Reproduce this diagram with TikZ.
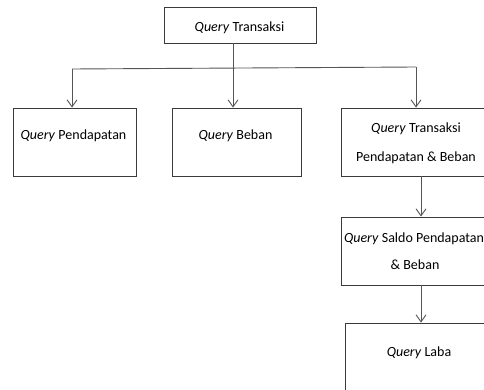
\documentclass[tikz,border=0pt]{standalone}
\usepackage{fontspec}
\setmainfont{Carlito}
\usetikzlibrary{arrows.meta}
\definecolor{boxline}{HTML}{3A3A3A}
\definecolor{conline}{HTML}{555555}
\tikzset{
  box/.style={draw=boxline, line width=0.9pt, rectangle, inner sep=0pt},
  lbl/.style={anchor=base, inner sep=0pt, font=\fontsize{14}{28}\selectfont, text=black},
  conn/.style={draw=conline, line width=0.9pt},
  arr/.style={conn, -{Straight Barb[length=7pt,width=10pt,line width=0.9pt]}}
}
\begin{document}
\begin{tikzpicture}[x=1pt,y=-1pt]
\useasboundingbox (0,0) rectangle (484,390);
\clip (0,0) rectangle (484,390);
% boxes
\node[box, minimum width=152pt, minimum height=36pt] (top) at (240,25) {};
\node[box, minimum width=123pt, minimum height=68pt] (b1) at (74.5,142) {};
\node[box, minimum width=129pt, minimum height=68pt] (b2) at (236.5,142) {};
\node[box, minimum width=160pt, minimum height=68pt] (b3) at (421,142) {};
\node[box, minimum width=160pt, minimum height=68pt] (b4) at (421,251) {};
\node[box, minimum width=150pt, minimum height=100pt] (b5) at (420,373) {};
% labels
\node[lbl] (t0) at (239.5,32) {\textit{Query} Transaksi};
\node[lbl] (t1) at (73.5,140) {\textit{Query} Pendapatan};
\node[lbl] (t2) at (235.5,140) {\textit{Query} Beban};
\node[lbl] (t3a) at (416,133) {\textit{Query} Transaksi};
\node[lbl] (t3b) at (416,162) {Pendapatan \& Beban};
\node[lbl] (t4a) at (414,242) {\textit{Query} Saldo Pendapatan};
\node[lbl] (t4b) at (415,269) {\& Beban};
\node[lbl] (t5) at (419,356) {\textit{Query} Laba};
% connectors
\coordinate (j) at (233,68);
\coordinate (hl) at (72,69);
\coordinate (hr) at (416,67);
\draw[conn] (top.south -| j) -- (j);
\draw[conn] (hl) -- (hr);
\draw[arr] (hl) -- (hl |- b1.north);
\draw[arr] (j) -- (j |- b2.north);
\draw[arr] (hr) -- (hr |- b3.north);
\coordinate (v) at (421,0);
\draw[arr] (v |- b3.south) -- (v |- b4.north);
\draw[arr] (v |- b4.south) -- (v |- b5.north);
\end{tikzpicture}
\end{document}
